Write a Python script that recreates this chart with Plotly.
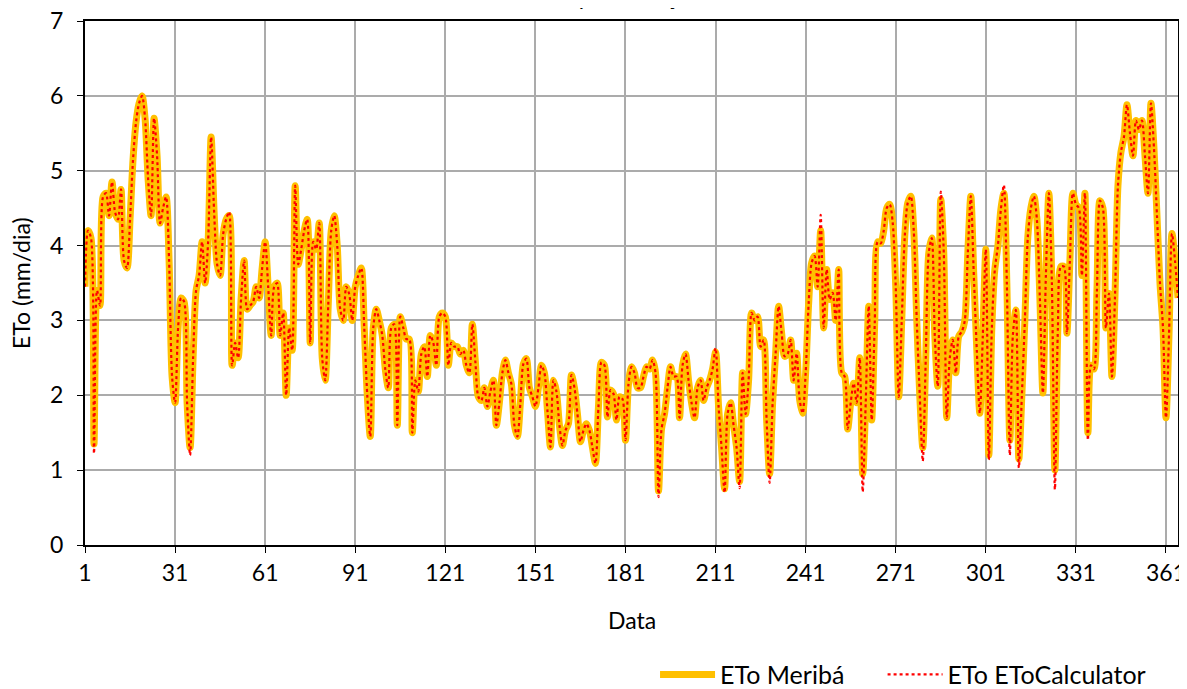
import plotly.graph_objects as go

# Daily reference evapotranspiration (mm/dia), day 1 .. 365
days = list(range(1, 366))

eto_meriba = [
    3.45, 4.2, 4.1, 1.35, 3.4, 3.2, 4.65, 4.7, 4.4, 4.85,
    4.45, 4.35, 4.75, 3.8, 3.7, 4.35, 5.15, 5.65, 5.9, 6.0,
    5.7, 4.9, 4.4, 5.7, 5.2, 4.3, 4.5, 4.65, 3.8, 2.25,
    1.9, 2.9, 3.3, 3.25, 1.9, 1.3, 2.5, 3.4, 3.6, 4.05,
    3.5, 4.05, 5.45, 4.45, 3.75, 3.6, 4.15, 4.35, 4.4, 2.4,
    2.7, 2.5, 3.3, 3.8, 3.15, 3.2, 3.25, 3.45, 3.3, 3.7,
    4.05, 3.45, 2.8, 3.45, 3.5, 2.8, 3.1, 2.0, 2.9, 2.6,
    4.8, 3.75, 3.95, 4.2, 4.35, 2.7, 4.05, 3.95, 4.3, 2.5,
    2.2, 3.2, 4.2, 4.4, 4.0, 3.15, 3.0, 3.45, 3.35, 3.0,
    3.45, 3.6, 3.7, 2.9, 2.0, 1.45, 2.9, 3.15, 3.0, 2.8,
    2.35, 2.1, 2.9, 2.95, 1.6, 3.05, 2.9, 2.75, 2.75, 1.5,
    2.2, 2.05, 2.55, 2.65, 2.25, 2.8, 2.7, 2.4, 3.05, 3.1,
    3.05, 2.4, 2.7, 2.65, 2.65, 2.55, 2.6, 2.4, 2.3, 2.95,
    2.45, 1.98, 1.93, 2.1, 1.85, 2.05, 2.2, 1.6, 1.9, 2.3,
    2.47, 2.3, 2.15, 1.6, 1.45, 1.9, 2.42, 2.49, 2.1, 1.98,
    1.85, 2.1, 2.4, 2.3, 1.8, 1.31, 2.2, 2.05, 1.6, 1.33,
    1.53, 1.62, 2.27, 2.1, 1.75, 1.38, 1.53, 1.62, 1.53, 1.3,
    1.09, 1.85, 2.44, 2.4, 1.71, 2.07, 2.02, 1.67, 1.98, 1.95,
    1.4, 2.15, 2.38, 2.3, 2.1, 2.1, 2.25, 2.38, 2.35, 2.47,
    2.3, 0.72, 1.55, 1.75, 2.1, 2.38, 2.25, 2.25, 1.7, 2.4,
    2.55, 2.2, 1.9, 1.7, 2.1, 2.2, 1.93, 2.1, 2.2, 2.35,
    2.58, 1.85, 1.3, 0.75, 1.75, 1.9, 1.6, 1.3, 0.85, 2.3,
    1.75, 2.2, 3.1, 3.0, 3.05, 2.65, 2.74, 1.67, 0.95, 1.9,
    2.56, 3.19, 2.83, 2.52, 2.55, 2.74, 2.2, 2.56, 1.94, 1.76,
    2.3, 3.23, 3.77, 3.86, 3.45, 4.2, 2.9, 3.68, 3.28, 3.37,
    3.0, 3.68, 2.3, 2.25, 1.55, 1.9, 2.16, 1.9, 2.5, 0.95,
    1.9, 3.19, 1.67, 2.96, 4.05, 4.03, 4.2, 4.5, 4.55, 4.3,
    3.45, 1.98, 3.0, 4.12, 4.57, 4.66, 4.2, 3.0, 2.0, 1.3,
    2.5, 3.9, 4.1, 2.8, 2.12, 4.62, 3.9, 1.7, 2.5, 2.74,
    2.3, 2.79, 2.85, 3.0, 3.9, 4.66, 3.6, 2.6, 1.76, 2.8,
    3.95, 1.2, 2.9, 3.68, 3.99, 4.48, 4.7, 3.5, 1.4, 2.8,
    3.14, 1.15, 2.0, 3.0, 4.12, 4.5, 4.66, 4.35, 3.3, 2.03,
    3.6, 4.7, 3.5, 1.0, 2.9, 3.72, 3.72, 2.83, 3.8, 4.7,
    4.55, 4.5, 3.6, 4.7, 1.5, 2.4, 2.35, 3.4, 4.6, 4.5,
    2.9, 3.36, 2.25, 3.3, 4.8, 5.25, 5.45, 5.88, 5.5, 5.2,
    5.67, 5.55, 5.67, 5.2, 4.7, 5.9, 5.3, 4.4, 3.5, 2.9,
    1.7, 2.8, 4.16, 3.8, 3.3,
]

# EToCalculator follows Meribá almost everywhere; days where it differs
calc_days = [4, 36, 49, 192, 211, 214, 219, 229, 246, 260, 280, 286, 302, 307, 309, 312, 324, 335]
calc_values = [1.22, 1.2, 4.45, 0.64, 2.63, 0.7, 0.76, 0.83, 4.41, 0.71, 1.12, 4.72, 1.14, 4.81, 1.2, 1.03, 0.74, 1.4]

eto_calc = list(eto_meriba)
for d, v in zip(calc_days, calc_values):
    eto_calc[d - 1] = v

x_ticks = list(range(1, 366, 30))

font_family = "Lato, 'Open Sans', Arial, sans-serif"
tick_size = 23

fig = go.Figure()

fig.add_trace(
    go.Scatter(
        x=days,
        y=eto_meriba,
        mode="lines",
        name="ETo Meribá",
        legend="legend",
        line=dict(color="#FFC000", width=7, shape="spline", smoothing=0.8),
    )
)
fig.add_trace(
    go.Scatter(
        x=days,
        y=eto_calc,
        mode="lines",
        name="ETo EToCalculator",
        legend="legend2",
        line=dict(color="#FF0000", width=2.2, dash="dot", shape="spline", smoothing=0.8),
    )
)

axis_style = dict(
    showgrid=True,
    gridcolor="#ABABAB",
    gridwidth=2,
    zeroline=False,
    showline=True,
    linecolor="black",
    linewidth=2,
    mirror=True,
    ticks="outside",
    ticklen=6,
    tickcolor="black",
    tickfont=dict(size=tick_size, color="black"),
    ticklabeloverflow="allow",
    automargin=False,
)
fig.update_xaxes(range=[1, 365], tickvals=x_ticks, ticktext=[str(t) for t in x_ticks], **axis_style)
fig.update_yaxes(range=[0, 7], dtick=1, ticklabelstandoff=9, **axis_style)

fig.add_annotation(
    text="Data", xref="paper", yref="paper", x=0.5, y=0, yanchor="middle",
    yshift=-75, showarrow=False, font=dict(size=tick_size, color="black"),
)
fig.add_annotation(
    text="ETo (mm/dia)", xref="paper", yref="paper", x=0, y=0.5, xanchor="center",
    xshift=-64, textangle=-90, showarrow=False, font=dict(size=tick_size, color="black"),
)
# Chart title sits above the visible area; only its descenders peek in
fig.add_annotation(
    text="Representação", xref="paper", yref="paper", x=0.5, y=1.0,
    yanchor="bottom", yshift=9, xshift=-4, showarrow=False,
    font=dict(size=23, color="black"),
)

legend_style = dict(
    orientation="h",
    xref="container",
    yref="container",
    y=0.021,
    xanchor="left",
    yanchor="middle",
    font=dict(size=25, color="black"),
    itemwidth=55,
    bgcolor="rgba(0,0,0,0)",
)

# the page body adds an 8px offset, so the figure is 8px smaller than the window
fig.update_layout(
    width=1179,
    height=681,
    margin=dict(l=77, r=9, t=13, b=144),
    plot_bgcolor="white",
    paper_bgcolor="white",
    font=dict(family=font_family, size=tick_size, color="black"),
    showlegend=True,
    legend=dict(x=0.5488, **legend_style),
    legend2=dict(x=0.7418, **legend_style),
)

fig.write_html("out.html")
